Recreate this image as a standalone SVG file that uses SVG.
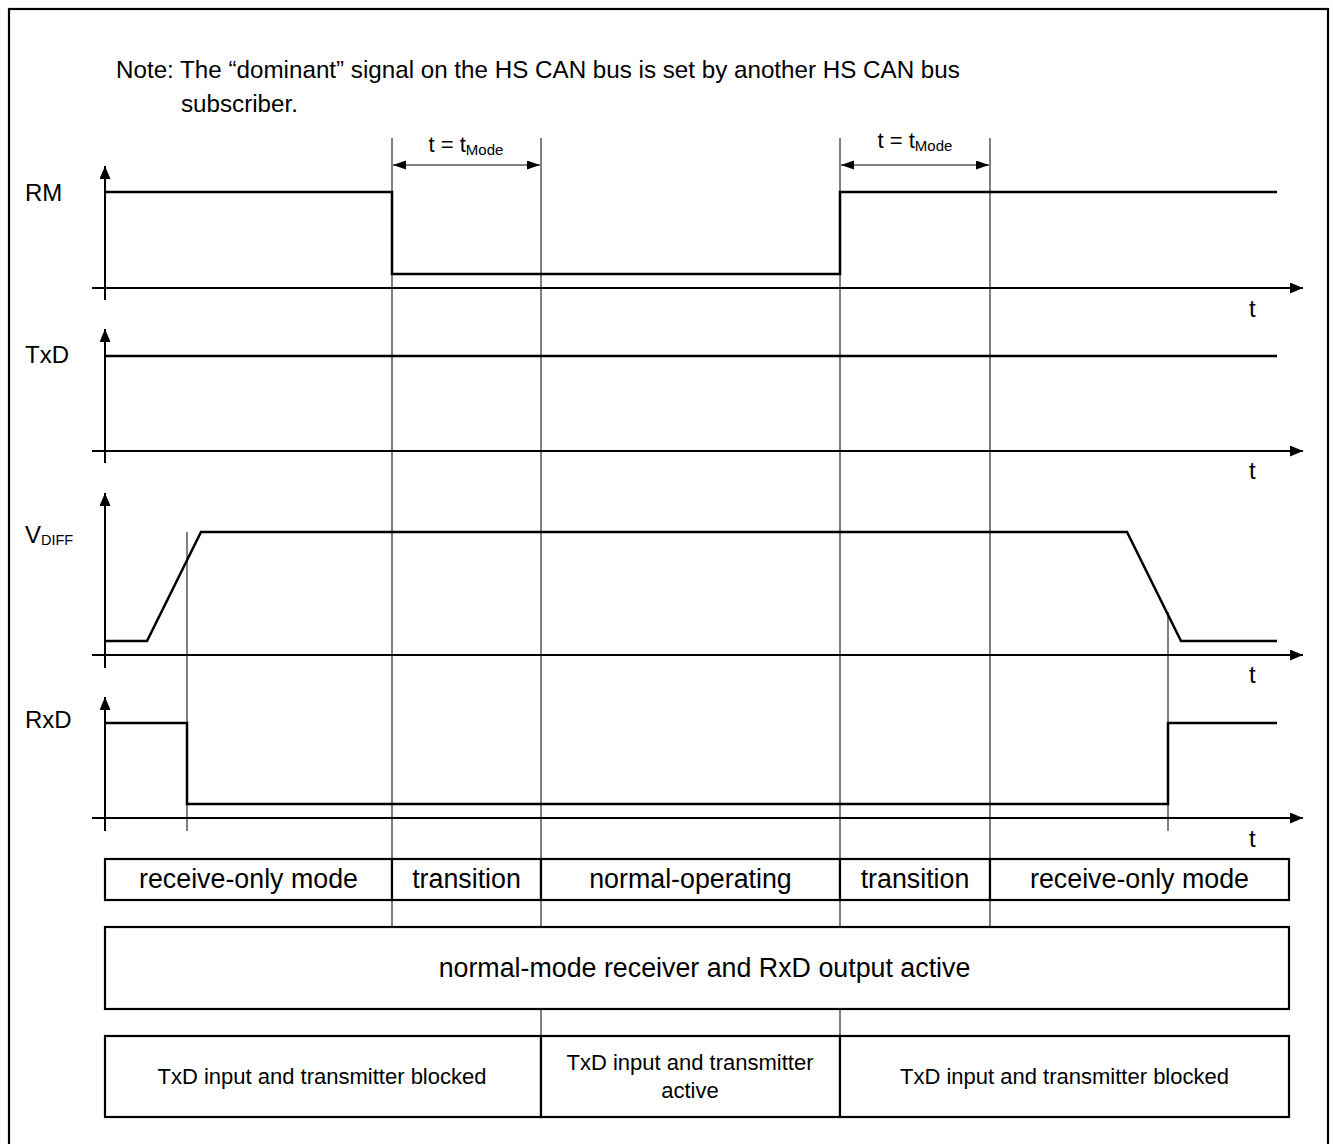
<svg xmlns="http://www.w3.org/2000/svg" width="1333" height="1144" viewBox="0 0 1333 1144">
<style>
text{font-family:"Liberation Sans",Arial,sans-serif;fill:#000}
.sig{fill:none;stroke:#000;stroke-width:2.5;stroke-linejoin:miter}
.ax{fill:none;stroke:#000;stroke-width:2}
.guide{fill:none;stroke:#000;stroke-width:1}
.box{fill:#fff;stroke:#000;stroke-width:2.2}
.lbl{font-size:24px}
.mode{font-size:26.8px;text-anchor:middle}
.small{font-size:22px;text-anchor:middle}
.dim{font-size:22px}
</style>
<defs>
<marker id="ah" markerUnits="userSpaceOnUse" markerWidth="14" markerHeight="12" refX="13" refY="5.5" orient="auto">
<path d="M0,0 L13,5.5 L0,11 z" fill="#000"/>
</marker>
<marker id="dh" markerUnits="userSpaceOnUse" markerWidth="14" markerHeight="10" refX="13" refY="4.5" orient="auto-start-reverse">
<path d="M0,0 L13,4.5 L0,9 z" fill="#000"/>
</marker>
</defs>
<rect width="1333" height="1144" fill="#fff"/>
<rect x="9" y="9" width="1319" height="1160" fill="none" stroke="#000" stroke-width="2.2"/>

<g id="note">
<text x="116" y="78" font-size="24.2px">Note: The “dominant” signal on the HS CAN bus is set by another HS CAN bus</text>
<text x="181" y="112" font-size="24.2px">subscriber.</text>
</g>

<g id="connectors">
<line class="guide" x1="392" y1="138" x2="392" y2="927"/>
<line class="guide" x1="541" y1="138" x2="541" y2="1036"/>
<line class="guide" x1="840" y1="138" x2="840" y2="1036"/>
<line class="guide" x1="990" y1="138" x2="990" y2="927"/>
<line class="guide" x1="187" y1="532" x2="187" y2="831"/>
<line class="guide" x1="1168" y1="612" x2="1168" y2="831"/>
<line class="guide" x1="393" y1="165" x2="540" y2="165" marker-start="url(#dh)" marker-end="url(#dh)"/>
<line class="guide" x1="841" y1="165" x2="989" y2="165" marker-start="url(#dh)" marker-end="url(#dh)"/>
</g>

<g id="tmode1">
<text class="dim" x="428.5" y="152">t = t<tspan font-size="15px" dy="3">Mode</tspan></text>
</g>
<g id="tmode2">
<text class="dim" x="877.5" y="148">t = t<tspan font-size="15px" dy="3">Mode</tspan></text>
</g>

<g id="rm">
<text class="lbl" x="25" y="201">RM</text>
<line class="ax" x1="105" y1="300" x2="105" y2="166" marker-end="url(#ah)"/>
<line class="ax" x1="92" y1="288" x2="1303" y2="288" marker-end="url(#ah)"/>
<text class="lbl" x="1249" y="317">t</text>
<polyline class="sig" points="105,192 392,192 392,274 840,274 840,192 1277,192"/>
</g>

<g id="txd">
<text class="lbl" x="25" y="363">TxD</text>
<line class="ax" x1="105" y1="463" x2="105" y2="329" marker-end="url(#ah)"/>
<line class="ax" x1="92" y1="451" x2="1303" y2="451" marker-end="url(#ah)"/>
<text class="lbl" x="1249" y="479">t</text>
<polyline class="sig" points="105,356 1277,356"/>
</g>

<g id="vdiff">
<text class="lbl" x="25" y="543">V<tspan font-size="14.5px" dy="2">DIFF</tspan></text>
<line class="ax" x1="105" y1="668" x2="105" y2="493" marker-end="url(#ah)"/>
<line class="ax" x1="92" y1="655" x2="1303" y2="655" marker-end="url(#ah)"/>
<text class="lbl" x="1249" y="683">t</text>
<polyline class="sig" points="105,641 147,641 201,532 1127,532 1181,641 1277,641"/>
</g>

<g id="rxd">
<text class="lbl" x="25" y="728">RxD</text>
<line class="ax" x1="105" y1="831" x2="105" y2="697" marker-end="url(#ah)"/>
<line class="ax" x1="92" y1="818" x2="1303" y2="818" marker-end="url(#ah)"/>
<text class="lbl" x="1249" y="847">t</text>
<polyline class="sig" points="105,723 187,723 187,804 1168,804 1168,723 1277,723"/>
</g>

<g id="mode-receive-only-1">
<rect class="box" x="105" y="859" width="287" height="41"/>
<text class="mode" x="248.5" y="888">receive-only mode</text>
</g>
<g id="mode-transition-1">
<rect class="box" x="392" y="859" width="149" height="41"/>
<text class="mode" x="466.5" y="888">transition</text>
</g>
<g id="mode-normal-operating">
<rect class="box" x="541" y="859" width="299" height="41"/>
<text class="mode" x="690.5" y="888">normal-operating</text>
</g>
<g id="mode-transition-2">
<rect class="box" x="840" y="859" width="150" height="41"/>
<text class="mode" x="915" y="888">transition</text>
</g>
<g id="mode-receive-only-2">
<rect class="box" x="990" y="859" width="299" height="41"/>
<text class="mode" x="1139.5" y="888">receive-only mode</text>
</g>

<g id="receiver-active">
<rect class="box" x="105" y="927" width="1184" height="82"/>
<text class="mode" x="704.5" y="977">normal-mode receiver and RxD output active</text>
</g>

<g id="txd-blocked-1">
<rect class="box" x="105" y="1036" width="436" height="81"/>
<text class="small" x="322" y="1084">TxD input and transmitter blocked</text>
</g>
<g id="txd-active">
<rect class="box" x="541" y="1036" width="299" height="81"/>
<text class="small" x="690" y="1070">TxD input and transmitter</text>
<text class="small" x="690" y="1098">active</text>
</g>
<g id="txd-blocked-2">
<rect class="box" x="840" y="1036" width="449" height="81"/>
<text class="small" x="1064.5" y="1084">TxD input and transmitter blocked</text>
</g>
</svg>
